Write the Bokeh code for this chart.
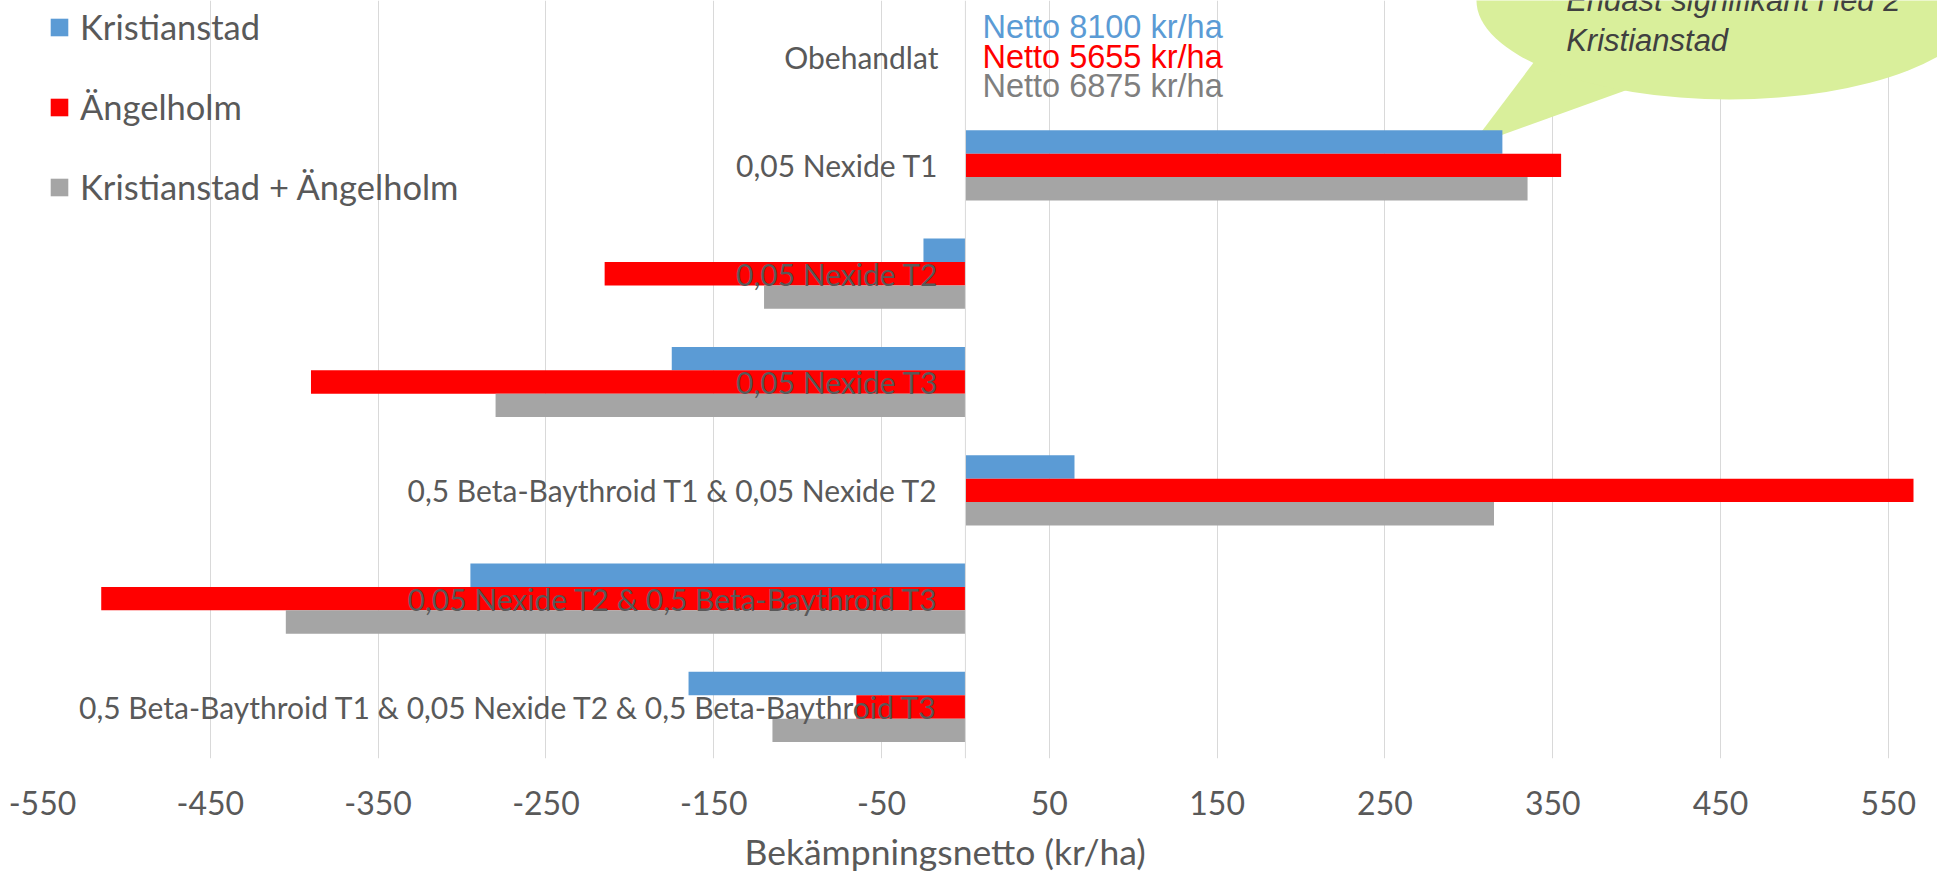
from bokeh.plotting import figure
from bokeh.models import ColumnDataSource, Range1d, FixedTicker, Span, Legend, LegendItem, Title
from bokeh.core.properties import value
from bokeh.embed import file_html
from bokeh.resources import INLINE

# ---------------- data ----------------
categories = [
    "Obehandlat",
    "0,05 Nexide T1",
    "0,05 Nexide T2",
    "0,05 Nexide T3",
    "0,5 Beta-Baythroid T1 & 0,05 Nexide T2",
    "0,05 Nexide T2 & 0,5 Beta-Baythroid T3",
    "0,5 Beta-Baythroid T1 & 0,05 Nexide T2 & 0,5 Beta-Baythroid T3",
]
kristianstad = [0, 320, -25, -175, 65, -295, -165]
angelholm = [0, 355, -215, -390, 565, -515, -65]
kombinerat = [0, 335, -120, -280, 315, -405, -115]
series_names = ["Kristianstad", "Ängelholm", "Kristianstad + Ängelholm"]
series_colors = ["#5B9BD5", "#FF0000", "#A5A5A5"]
netto_labels = ["Netto 8100 kr/ha", "Netto 5655 kr/ha", "Netto 6875 kr/ha"]
netto_colors = ["#5B9BD5", "#FF0000", "#7F7F7F"]
x_ticks = [-550, -450, -350, -250, -150, -50, 50, 150, 250, 350, 450, 550]
x_title = "Bekämpningsnetto (kr/ha)"
callout_lines = ["Endast signifikant i led 2", "Kristianstad"]

# ---------------- layout helpers ----------------
pos = [-i for i in range(len(categories))]
bar_h = 0.216
offsets = [bar_h, 0.0, -bar_h]
series_values = [kristianstad, angelholm, kombinerat]

FONT = "Lato"
TXT = "#595959"

p = figure(width=1937, height=884,
           x_range=Range1d(-550, 579.3), y_range=Range1d(-6.476, 0.5226),
           output_backend="svg", toolbar_location=None,
           y_axis_location=None,
           min_border_left=42, min_border_right=0, min_border_top=0, min_border_bottom=126)

p.outline_line_color = None
p.ygrid.visible = False
p.xgrid.grid_line_color = "#D9D9D9"
p.xgrid.grid_line_width = 1
p.xaxis.ticker = FixedTicker(ticks=x_ticks)
p.xaxis.major_label_overrides = {t: str(t) for t in x_ticks}
p.xaxis.axis_line_color = None
p.xaxis.major_tick_line_color = None
p.xaxis.minor_tick_line_color = None
p.xaxis.major_label_text_font = FONT
p.xaxis.major_label_text_font_size = "32px"
p.xaxis.major_label_text_color = TXT
p.xaxis.major_label_standoff = 26

# axis title: Excel places it slightly left of the plot-area centre
p.add_layout(Title(text=x_title, align="left", offset=702, standoff=20,
                   text_line_height=0.75,
                   text_font=FONT, text_font_size="35.5px", text_font_style="normal",
                   text_color=TXT), "below")

p.add_layout(Span(location=0, dimension="height", line_color="#D9D9D9", line_width=1))

# callout bubble pointing at the Kristianstad bar of "0,05 Nexide T1"
k1 = kristianstad[1]
tip_x, tip_y = k1 - 19, pos[1] + offsets[0] - 0.04
p.patch(x=[tip_x, 344, 402], y=[tip_y, 0.06, -0.26],
        fill_color="#D9EF9B", line_color=None)
p.ellipse(x=[455.3], y=[0.523], width=301.5, height=1.828,
          fill_color="#D9EF9B", line_color=None)
p.text(x=[358, 358], y=[0.523, 0.153], text=callout_lines,
       text_font=value("Liberation Sans"), text_font_style="italic",
       text_font_size="31px", text_color="#404040",
       text_align="left", text_baseline="alphabetic")

renderers = []
for vals, off, col in zip(series_values, offsets, series_colors):
    src = ColumnDataSource(dict(y=[q + off for q in pos], right=vals))
    r = p.hbar(y="y", left=0, right="right", height=bar_h, source=src,
               fill_color=col, line_color=None)
    renderers.append(r)

# category labels (Excel draws them next to the axis, over the bars)
p.text(x=[0] * len(categories), y=pos, text=categories, x_offset=-27,
       text_align="right", text_baseline="middle",
       text_font=value(FONT), text_font_size="30px", text_color=TXT)

# Netto labels for untreated
nsrc = ColumnDataSource(dict(x=[0] * 3, y=[pos[0]] * 3, text=netto_labels,
                             yo=[-30, 0, 29], c=netto_colors))
p.text(x="x", y="y", text="text", x_offset=17, y_offset="yo", text_color="c",
       text_align="left", text_baseline="alphabetic",
       text_font=value("Liberation Sans"), text_font_size="32.5px", source=nsrc)

legend = Legend(items=[LegendItem(label=n, renderers=[r]) for n, r in zip(series_names, renderers)],
                location="top_left", orientation="vertical",
                glyph_width=22, glyph_height=22, label_standoff=10,
                spacing=39, padding=6, margin=0,
                label_text_font=FONT, label_text_font_size="34.5px", label_text_color=TXT,
                background_fill_alpha=0, border_line_alpha=0)
p.add_layout(legend)

open("out.html", "w").write(file_html(p, INLINE))
